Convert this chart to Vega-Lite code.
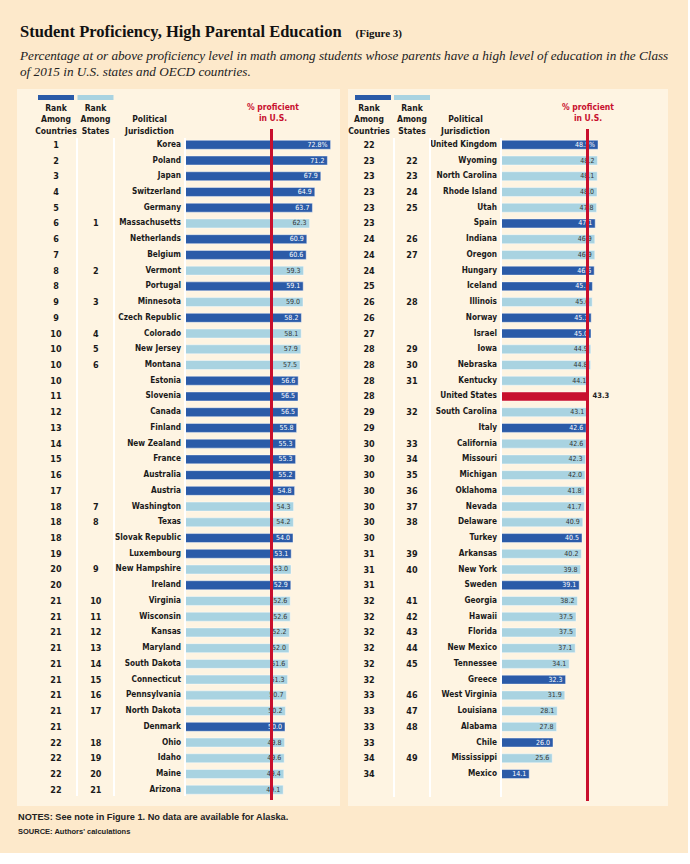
{
  "$schema": "https://vega.github.io/schema/vega-lite/v6.json",
  "background": "#FDE9CB",
  "padding": {"left": 17, "top": 23, "right": 19, "bottom": 17},
  "title": {
    "text": "Student Proficiency, High Parental Education",
    "subtitle": "\u200b\u2003\u2003\u2003\u2003\u2003\u2003\u2003\u2003\u2003\u2003\u2003\u2003\u2003\u2003\u2003\u2003\u2003\u2003\u2003\u2003\u2003\u2003\u2003\u2003\u2003\u2003\u2003\u2003\u2003\u2003\u2002(Figure 3)",
    "anchor": "start", "frame": "group", "dx": 3, "offset": 9,
    "font": "Liberation Serif", "fontSize": 16.5, "fontWeight": "bold", "color": "#111111",
    "subtitleFont": "Liberation Serif", "subtitleFontSize": 11, "subtitleFontWeight": "bold", "subtitleColor": "#111111",
    "subtitlePadding": -12.5
  },
  "datasets": {
    "left": [
      {"name": "Korea", "cr": "1", "sr": "", "value": 72.8, "type": "Country", "label": "72.8%"},
      {"name": "Poland", "cr": "2", "sr": "", "value": 71.2, "type": "Country", "label": "71.2"},
      {"name": "Japan", "cr": "3", "sr": "", "value": 67.9, "type": "Country", "label": "67.9"},
      {"name": "Switzerland", "cr": "4", "sr": "", "value": 64.9, "type": "Country", "label": "64.9"},
      {"name": "Germany", "cr": "5", "sr": "", "value": 63.7, "type": "Country", "label": "63.7"},
      {"name": "Massachusetts", "cr": "6", "sr": "1", "value": 62.3, "type": "State", "label": "62.3"},
      {"name": "Netherlands", "cr": "6", "sr": "", "value": 60.9, "type": "Country", "label": "60.9"},
      {"name": "Belgium", "cr": "7", "sr": "", "value": 60.6, "type": "Country", "label": "60.6"},
      {"name": "Vermont", "cr": "8", "sr": "2", "value": 59.3, "type": "State", "label": "59.3"},
      {"name": "Portugal", "cr": "8", "sr": "", "value": 59.1, "type": "Country", "label": "59.1"},
      {"name": "Minnesota", "cr": "9", "sr": "3", "value": 59.0, "type": "State", "label": "59.0"},
      {"name": "Czech Republic", "cr": "9", "sr": "", "value": 58.2, "type": "Country", "label": "58.2"},
      {"name": "Colorado", "cr": "10", "sr": "4", "value": 58.1, "type": "State", "label": "58.1"},
      {"name": "New Jersey", "cr": "10", "sr": "5", "value": 57.9, "type": "State", "label": "57.9"},
      {"name": "Montana", "cr": "10", "sr": "6", "value": 57.5, "type": "State", "label": "57.5"},
      {"name": "Estonia", "cr": "10", "sr": "", "value": 56.6, "type": "Country", "label": "56.6"},
      {"name": "Slovenia", "cr": "11", "sr": "", "value": 56.5, "type": "Country", "label": "56.5"},
      {"name": "Canada", "cr": "12", "sr": "", "value": 56.5, "type": "Country", "label": "56.5"},
      {"name": "Finland", "cr": "13", "sr": "", "value": 55.8, "type": "Country", "label": "55.8"},
      {"name": "New Zealand", "cr": "14", "sr": "", "value": 55.3, "type": "Country", "label": "55.3"},
      {"name": "France", "cr": "15", "sr": "", "value": 55.3, "type": "Country", "label": "55.3"},
      {"name": "Australia", "cr": "16", "sr": "", "value": 55.2, "type": "Country", "label": "55.2"},
      {"name": "Austria", "cr": "17", "sr": "", "value": 54.8, "type": "Country", "label": "54.8"},
      {"name": "Washington", "cr": "18", "sr": "7", "value": 54.3, "type": "State", "label": "54.3"},
      {"name": "Texas", "cr": "18", "sr": "8", "value": 54.2, "type": "State", "label": "54.2"},
      {"name": "Slovak Republic", "cr": "18", "sr": "", "value": 54.0, "type": "Country", "label": "54.0"},
      {"name": "Luxembourg", "cr": "19", "sr": "", "value": 53.1, "type": "Country", "label": "53.1"},
      {"name": "New Hampshire", "cr": "20", "sr": "9", "value": 53.0, "type": "State", "label": "53.0"},
      {"name": "Ireland", "cr": "20", "sr": "", "value": 52.9, "type": "Country", "label": "52.9"},
      {"name": "Virginia", "cr": "21", "sr": "10", "value": 52.6, "type": "State", "label": "52.6"},
      {"name": "Wisconsin", "cr": "21", "sr": "11", "value": 52.6, "type": "State", "label": "52.6"},
      {"name": "Kansas", "cr": "21", "sr": "12", "value": 52.2, "type": "State", "label": "52.2"},
      {"name": "Maryland", "cr": "21", "sr": "13", "value": 52.0, "type": "State", "label": "52.0"},
      {"name": "South Dakota", "cr": "21", "sr": "14", "value": 51.6, "type": "State", "label": "51.6"},
      {"name": "Connecticut", "cr": "21", "sr": "15", "value": 51.3, "type": "State", "label": "51.3"},
      {"name": "Pennsylvania", "cr": "21", "sr": "16", "value": 50.7, "type": "State", "label": "50.7"},
      {"name": "North Dakota", "cr": "21", "sr": "17", "value": 50.2, "type": "State", "label": "50.2"},
      {"name": "Denmark", "cr": "21", "sr": "", "value": 50.0, "type": "Country", "label": "50.0"},
      {"name": "Ohio", "cr": "22", "sr": "18", "value": 49.8, "type": "State", "label": "49.8"},
      {"name": "Idaho", "cr": "22", "sr": "19", "value": 49.6, "type": "State", "label": "49.6"},
      {"name": "Maine", "cr": "22", "sr": "20", "value": 49.4, "type": "State", "label": "49.4"},
      {"name": "Arizona", "cr": "22", "sr": "21", "value": 49.1, "type": "State", "label": "49.1"}
    ],
    "right": [
      {"name": "United Kingdom", "cr": "22", "sr": "", "value": 48.5, "type": "Country", "label": "48.5%"},
      {"name": "Wyoming", "cr": "23", "sr": "22", "value": 48.2, "type": "State", "label": "48.2"},
      {"name": "North Carolina", "cr": "23", "sr": "23", "value": 48.1, "type": "State", "label": "48.1"},
      {"name": "Rhode Island", "cr": "23", "sr": "24", "value": 48.0, "type": "State", "label": "48.0"},
      {"name": "Utah", "cr": "23", "sr": "25", "value": 47.8, "type": "State", "label": "47.8"},
      {"name": "Spain", "cr": "23", "sr": "", "value": 47.1, "type": "Country", "label": "47.1"},
      {"name": "Indiana", "cr": "24", "sr": "26", "value": 46.9, "type": "State", "label": "46.9"},
      {"name": "Oregon", "cr": "24", "sr": "27", "value": 46.9, "type": "State", "label": "46.9"},
      {"name": "Hungary", "cr": "24", "sr": "", "value": 46.6, "type": "Country", "label": "46.6"},
      {"name": "Iceland", "cr": "25", "sr": "", "value": 45.7, "type": "Country", "label": "45.7"},
      {"name": "Illinois", "cr": "26", "sr": "28", "value": 45.6, "type": "State", "label": "45.6"},
      {"name": "Norway", "cr": "26", "sr": "", "value": 45.1, "type": "Country", "label": "45.1"},
      {"name": "Israel", "cr": "27", "sr": "", "value": 45.0, "type": "Country", "label": "45.0"},
      {"name": "Iowa", "cr": "28", "sr": "29", "value": 44.9, "type": "State", "label": "44.9"},
      {"name": "Nebraska", "cr": "28", "sr": "30", "value": 44.8, "type": "State", "label": "44.8"},
      {"name": "Kentucky", "cr": "28", "sr": "31", "value": 44.1, "type": "State", "label": "44.1"},
      {"name": "United States", "cr": "28", "sr": "", "value": 43.3, "type": "US", "label": "43.3"},
      {"name": "South Carolina", "cr": "29", "sr": "32", "value": 43.1, "type": "State", "label": "43.1"},
      {"name": "Italy", "cr": "29", "sr": "", "value": 42.6, "type": "Country", "label": "42.6"},
      {"name": "California", "cr": "30", "sr": "33", "value": 42.6, "type": "State", "label": "42.6"},
      {"name": "Missouri", "cr": "30", "sr": "34", "value": 42.3, "type": "State", "label": "42.3"},
      {"name": "Michigan", "cr": "30", "sr": "35", "value": 42.0, "type": "State", "label": "42.0"},
      {"name": "Oklahoma", "cr": "30", "sr": "36", "value": 41.8, "type": "State", "label": "41.8"},
      {"name": "Nevada", "cr": "30", "sr": "37", "value": 41.7, "type": "State", "label": "41.7"},
      {"name": "Delaware", "cr": "30", "sr": "38", "value": 40.9, "type": "State", "label": "40.9"},
      {"name": "Turkey", "cr": "30", "sr": "", "value": 40.5, "type": "Country", "label": "40.5"},
      {"name": "Arkansas", "cr": "31", "sr": "39", "value": 40.2, "type": "State", "label": "40.2"},
      {"name": "New York", "cr": "31", "sr": "40", "value": 39.8, "type": "State", "label": "39.8"},
      {"name": "Sweden", "cr": "31", "sr": "", "value": 39.1, "type": "Country", "label": "39.1"},
      {"name": "Georgia", "cr": "32", "sr": "41", "value": 38.2, "type": "State", "label": "38.2"},
      {"name": "Hawaii", "cr": "32", "sr": "42", "value": 37.5, "type": "State", "label": "37.5"},
      {"name": "Florida", "cr": "32", "sr": "43", "value": 37.5, "type": "State", "label": "37.5"},
      {"name": "New Mexico", "cr": "32", "sr": "44", "value": 37.1, "type": "State", "label": "37.1"},
      {"name": "Tennessee", "cr": "32", "sr": "45", "value": 34.1, "type": "State", "label": "34.1"},
      {"name": "Greece", "cr": "32", "sr": "", "value": 32.3, "type": "Country", "label": "32.3"},
      {"name": "West Virginia", "cr": "33", "sr": "46", "value": 31.9, "type": "State", "label": "31.9"},
      {"name": "Louisiana", "cr": "33", "sr": "47", "value": 28.1, "type": "State", "label": "28.1"},
      {"name": "Alabama", "cr": "33", "sr": "48", "value": 27.8, "type": "State", "label": "27.8"},
      {"name": "Chile", "cr": "33", "sr": "", "value": 26.0, "type": "Country", "label": "26.0"},
      {"name": "Mississippi", "cr": "34", "sr": "49", "value": 25.6, "type": "State", "label": "25.6"},
      {"name": "Mexico", "cr": "34", "sr": "", "value": 14.1, "type": "Country", "label": "14.1"}
    ]
  },
  "vconcat": [
    {
      "title": {
        "text": "NOTES: See note in Figure 1. No data are available for Alaska.",
        "subtitle": "SOURCE: Authors' calculations",
        "orient": "bottom", "anchor": "start", "frame": "group", "dx": 1, "offset": 7,
        "font": "Liberation Sans", "fontSize": 9.2, "fontWeight": "bold", "color": "#222222",
        "subtitleFont": "Liberation Sans", "subtitleFontSize": 7.5, "subtitleFontWeight": "bold", "subtitleColor": "#222222",
        "subtitlePadding": 6
      },
      "vconcat": [
        {
          "title": {
            "text": ["Percentage at or above proficiency level in math among students whose parents have a high level of education in the Class", "of 2015 in U.S. states and OECD countries."],
            "anchor": "start", "frame": "group", "dx": 3, "offset": 0,
            "font": "Liberation Serif", "fontStyle": "italic", "fontWeight": "normal", "fontSize": 13.2, "lineHeight": 16, "color": "#222222"
          },
          "spacing": 8,
          "resolve": {"scale": {"color": "independent"}, "legend": {"color": "independent"}},
          "hconcat": [
            {
              "spacing": 0,
              "bounds": "flush",
              "resolve": {"scale": {"color": "independent"}, "legend": {"color": "independent"}},
              "hconcat": [
                {
                  "width": 60, "height": 717,
                  "data": {"name": "left"},
                  "title": {"text": ["Rank", "Among", "Countries"], "offset": -46, "dx": 9, "anchor": "middle", "frame": "group", "font": "DejaVu Sans Condensed", "fontSize": 8.5, "fontWeight": "bold", "lineHeight": 11.5, "color": "#1a1a1a"},
                  "encoding": {"y": {"field": "name", "type": "nominal", "sort": null, "axis": null, "scale": {"type": "band", "paddingInner": 0.43, "paddingOuter": 0, "range": [51.3, 705.2]}}},
                  "layer": [
                    {"mark": {"type": "text", "font": "DejaVu Sans Condensed", "fontSize": 9, "fontWeight": "bold", "color": "#1a1a1a", "baseline": "middle"},
                     "encoding": {"x": {"datum": 0.65, "type": "quantitative", "scale": {"domain": [0, 1]}, "axis": null}, "text": {"field": "cr"}}}
                  ]
                },
                {
                  "width": 37, "height": 717,
                  "data": {"name": "left"},
                  "title": {"text": ["Rank", "Among", "States"], "offset": -46, "anchor": "middle", "frame": "group", "font": "DejaVu Sans Condensed", "fontSize": 8.5, "fontWeight": "bold", "lineHeight": 11.5, "color": "#1a1a1a"},
                  "encoding": {"y": {"field": "name", "type": "nominal", "sort": null, "axis": null, "scale": {"type": "band", "paddingInner": 0.43, "paddingOuter": 0, "range": [51.3, 705.2]}}},
                  "layer": [
                    {"mark": {"type": "text", "font": "DejaVu Sans Condensed", "fontSize": 9, "fontWeight": "bold", "color": "#1a1a1a", "baseline": "middle"},
                     "encoding": {"x": {"datum": 0.51, "type": "quantitative", "scale": {"domain": [0, 1]}, "axis": null}, "text": {"field": "sr"}}},
                    {"mark": {"type": "rule", "color": "#ffffff", "strokeWidth": 2},
                     "encoding": {"x": {"datum": 0, "type": "quantitative"}, "y": {"datum": "Korea", "bandPosition": -0.26}, "y2": {"datum": "Arizona", "bandPosition": 1.2}}}
                  ]
                },
                {
                  "width": 71, "height": 717,
                  "data": {"name": "left"},
                  "title": {"text": ["Political", "Jurisdiction"], "offset": -46, "anchor": "middle", "frame": "group", "font": "DejaVu Sans Condensed", "fontSize": 8.5, "fontWeight": "bold", "lineHeight": 11.5, "color": "#1a1a1a"},
                  "encoding": {"y": {"field": "name", "type": "nominal", "sort": null, "axis": null, "scale": {"type": "band", "paddingInner": 0.43, "paddingOuter": 0, "range": [51.3, 705.2]}}},
                  "layer": [
                    {"mark": {"type": "text", "font": "DejaVu Sans Condensed", "fontSize": 8.2, "fontWeight": "bold", "color": "#1a1a1a", "baseline": "middle", "align": "right", "dx": -4},
                     "encoding": {"x": {"datum": 1, "type": "quantitative", "scale": {"domain": [0, 1]}, "axis": null}, "text": {"field": "name"}}},
                    {"mark": {"type": "rule", "color": "#ffffff", "strokeWidth": 2},
                     "encoding": {"x": {"datum": 0, "type": "quantitative"}, "y": {"datum": "Korea", "bandPosition": -0.26}, "y2": {"datum": "Arizona", "bandPosition": 1.2}}}
                  ]
                },
                {
                  "width": 155, "height": 717,
                  "data": {"name": "left"},
                  "title": {"text": ["% proficient", "in U.S."], "offset": -43, "dx": 10.5, "anchor": "middle", "frame": "group", "font": "DejaVu Sans Condensed", "fontSize": 8.5, "fontWeight": "bold", "lineHeight": 11.5, "color": "#C8102E"},
                  "encoding": {"y": {"field": "name", "type": "nominal", "sort": null, "axis": null, "scale": {"type": "band", "paddingInner": 0.43, "paddingOuter": 0, "range": [51.3, 705.2]}}},
                  "layer": [
                    {"mark": {"type": "bar", "stroke": "#ffffff", "strokeWidth": 0.8, "strokeOpacity": 0.55},
                     "encoding": {
                       "x": {"field": "value", "type": "quantitative", "scale": {"domain": [0, 77.5], "nice": false}, "axis": null},
                       "color": {"field": "type", "type": "nominal",
                         "scale": {"domain": ["Country", "State", "US"], "range": ["#2B5BA8", "#A9D3E1", "#C8102E"]},
                         "legend": {"orient": "none", "legendX": -147, "legendY": -9.5, "direction": "horizontal", "title": null, "values": ["Country", "State"], "symbolType": "M-1,-0.14L1,-0.14L1,0.14L-1,0.14Z", "symbolSize": 1296, "symbolStrokeWidth": 0, "symbolOpacity": 1, "labelExpr": "''", "labelOffset": 0, "columnPadding": 3.5, "padding": 0}}
                     }},
                    {"transform": [{"filter": "datum.type !== 'US'"}],
                     "mark": {"type": "text", "font": "DejaVu Sans Condensed", "fontSize": 7, "align": "right", "baseline": "middle", "dx": -3},
                     "encoding": {"x": {"field": "value", "type": "quantitative"}, "text": {"field": "label"},
                       "color": {"condition": {"test": "datum.type === 'Country'", "value": "#ffffff"}, "value": "#333333"}}},
                    {"mark": {"type": "rule", "color": "#ffffff", "strokeWidth": 2},
                     "encoding": {"x": {"datum": 0, "type": "quantitative"}, "y": {"datum": "Korea", "bandPosition": -0.26}, "y2": {"datum": "Arizona", "bandPosition": 1.2}}},
                    {"mark": {"type": "rule", "color": "#C8102E", "strokeWidth": 2},
                     "encoding": {"x": {"datum": 43.3, "type": "quantitative"}, "y": {"datum": "Korea", "bandPosition": -1.26}, "y2": {"datum": "Arizona", "bandPosition": 1.6}}}
                  ]
                }
              ]
            },
            {
              "spacing": 0,
              "bounds": "flush",
              "resolve": {"scale": {"color": "independent"}, "legend": {"color": "independent"}},
              "hconcat": [
                {
                  "width": 46, "height": 717,
                  "data": {"name": "right"},
                  "title": {"text": ["Rank", "Among", "Countries"], "offset": -46, "dx": -2, "anchor": "middle", "frame": "group", "font": "DejaVu Sans Condensed", "fontSize": 8.5, "fontWeight": "bold", "lineHeight": 11.5, "color": "#1a1a1a"},
                  "encoding": {"y": {"field": "name", "type": "nominal", "sort": null, "axis": null, "scale": {"type": "band", "paddingInner": 0.43, "paddingOuter": 0, "range": [51.3, 689.5]}}},
                  "layer": [
                    {"mark": {"type": "text", "font": "DejaVu Sans Condensed", "fontSize": 9, "fontWeight": "bold", "color": "#1a1a1a", "baseline": "middle"},
                     "encoding": {"x": {"datum": 0.457, "type": "quantitative", "scale": {"domain": [0, 1]}, "axis": null}, "text": {"field": "cr"}}}
                  ]
                },
                {
                  "width": 36, "height": 717,
                  "data": {"name": "right"},
                  "title": {"text": ["Rank", "Among", "States"], "offset": -46, "anchor": "middle", "frame": "group", "font": "DejaVu Sans Condensed", "fontSize": 8.5, "fontWeight": "bold", "lineHeight": 11.5, "color": "#1a1a1a"},
                  "encoding": {"y": {"field": "name", "type": "nominal", "sort": null, "axis": null, "scale": {"type": "band", "paddingInner": 0.43, "paddingOuter": 0, "range": [51.3, 689.5]}}},
                  "layer": [
                    {"mark": {"type": "text", "font": "DejaVu Sans Condensed", "fontSize": 9, "fontWeight": "bold", "color": "#1a1a1a", "baseline": "middle"},
                     "encoding": {"x": {"datum": 0.5, "type": "quantitative", "scale": {"domain": [0, 1]}, "axis": null}, "text": {"field": "sr"}}},
                    {"mark": {"type": "rule", "color": "#ffffff", "strokeWidth": 2},
                     "encoding": {"x": {"datum": 0, "type": "quantitative"}, "y": {"datum": "United Kingdom", "bandPosition": -0.26}, "y2": {"datum": "Mexico", "bandPosition": 3.0}}}
                  ]
                },
                {
                  "width": 71, "height": 717,
                  "data": {"name": "right"},
                  "title": {"text": ["Political", "Jurisdiction"], "offset": -46, "anchor": "middle", "frame": "group", "font": "DejaVu Sans Condensed", "fontSize": 8.5, "fontWeight": "bold", "lineHeight": 11.5, "color": "#1a1a1a"},
                  "encoding": {"y": {"field": "name", "type": "nominal", "sort": null, "axis": null, "scale": {"type": "band", "paddingInner": 0.43, "paddingOuter": 0, "range": [51.3, 689.5]}}},
                  "layer": [
                    {"mark": {"type": "text", "font": "DejaVu Sans Condensed", "fontSize": 8.2, "fontWeight": "bold", "color": "#1a1a1a", "baseline": "middle", "align": "right", "dx": -4},
                     "encoding": {"x": {"datum": 1, "type": "quantitative", "scale": {"domain": [0, 1]}, "axis": null}, "text": {"field": "name"}}},
                    {"mark": {"type": "rule", "color": "#ffffff", "strokeWidth": 2},
                     "encoding": {"x": {"datum": 0, "type": "quantitative"}, "y": {"datum": "United Kingdom", "bandPosition": -0.26}, "y2": {"datum": "Mexico", "bandPosition": 3.0}}}
                  ]
                },
                {
                  "width": 167, "height": 717,
                  "data": {"name": "right"},
                  "title": {"text": ["% proficient", "in U.S."], "offset": -43, "dx": 3.5, "anchor": "middle", "frame": "group", "font": "DejaVu Sans Condensed", "fontSize": 8.5, "fontWeight": "bold", "lineHeight": 11.5, "color": "#C8102E"},
                  "encoding": {"y": {"field": "name", "type": "nominal", "sort": null, "axis": null, "scale": {"type": "band", "paddingInner": 0.43, "paddingOuter": 0, "range": [51.3, 689.5]}}},
                  "layer": [
                    {"mark": {"type": "bar", "stroke": "#ffffff", "strokeWidth": 0.8, "strokeOpacity": 0.55},
                     "encoding": {
                       "x": {"field": "value", "type": "quantitative", "scale": {"domain": [0, 83.5], "nice": false}, "axis": null},
                       "color": {"field": "type", "type": "nominal",
                         "scale": {"domain": ["Country", "State", "US"], "range": ["#2B5BA8", "#A9D3E1", "#C8102E"]},
                         "legend": {"orient": "none", "legendX": -146, "legendY": -9.5, "direction": "horizontal", "title": null, "values": ["Country", "State"], "symbolType": "M-1,-0.14L1,-0.14L1,0.14L-1,0.14Z", "symbolSize": 1296, "symbolStrokeWidth": 0, "symbolOpacity": 1, "labelExpr": "''", "labelOffset": 0, "columnPadding": 3, "padding": 0}}
                     }},
                    {"transform": [{"filter": "datum.type !== 'US'"}],
                     "mark": {"type": "text", "font": "DejaVu Sans Condensed", "fontSize": 7, "align": "right", "baseline": "middle", "dx": -3},
                     "encoding": {"x": {"field": "value", "type": "quantitative"}, "text": {"field": "label"},
                       "color": {"condition": {"test": "datum.type === 'Country'", "value": "#ffffff"}, "value": "#333333"}}},
                    {"transform": [{"filter": "datum.type === 'US'"}],
                     "mark": {"type": "text", "font": "DejaVu Sans Condensed", "fontSize": 7.5, "fontWeight": "bold", "align": "left", "baseline": "middle", "dx": 5, "color": "#222222"},
                     "encoding": {"x": {"field": "value", "type": "quantitative"}, "text": {"field": "label"}}},
                    {"mark": {"type": "rule", "color": "#ffffff", "strokeWidth": 2},
                     "encoding": {"x": {"datum": 0, "type": "quantitative"}, "y": {"datum": "United Kingdom", "bandPosition": -0.26}, "y2": {"datum": "Mexico", "bandPosition": 3.0}}},
                    {"mark": {"type": "rule", "color": "#C8102E", "strokeWidth": 2},
                     "encoding": {"x": {"datum": 43.3, "type": "quantitative"}, "y": {"datum": "United Kingdom", "bandPosition": -1.26}, "y2": {"datum": "Mexico", "bandPosition": 3.5}}}
                  ]
                }
              ]
            }
          ]
        }
      ]
    }
  ],
  "config": {
    "view": {"fill": "#FEF4E2", "stroke": null},
    "legend": {"padding": 0}
  }
}
